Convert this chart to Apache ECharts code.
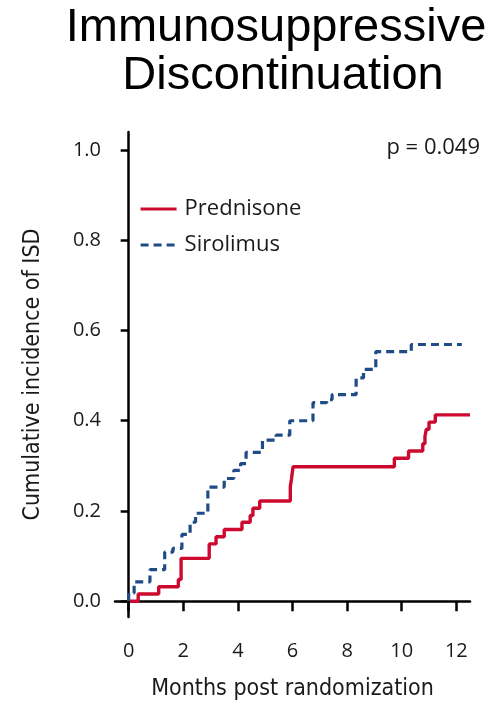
<!DOCTYPE html>
<html>
<head>
<meta charset="utf-8">
<script src="https://cdn.jsdelivr.net/npm/echarts@6/dist/echarts.min.js"></script>
<style>
  html, body { margin: 0; padding: 0; background: #ffffff; }
  #chart { width: 496px; height: 706px; }
</style>
</head>
<body>
<div id="chart"></div>
<script>
// Cumulative incidence step curves: [month, incidence after that month]
const prednisone = [
  [0.05, 0], [0.35, 0.016], [1.1, 0.032], [1.82, 0.048], [1.92, 0.095],
  [2.95, 0.127], [3.2, 0.143], [3.5, 0.159], [4.15, 0.175], [4.45, 0.19],
  [4.55, 0.206], [4.8, 0.222], [5.92, 0.254], [5.96, 0.27], [6.02, 0.298],
  [9.73, 0.317], [10.25, 0.333], [10.77, 0.349], [10.85, 0.365], [10.9, 0.381],
  [11.0, 0.397], [11.23, 0.413], [12.5, 0.413]
];
const sirolimus = [
  [0, 0], [0, 0.018], [0.2, 0.043], [0.78, 0.07], [1.32, 0.109], [1.62, 0.117],
  [1.95, 0.148], [2.25, 0.175], [2.45, 0.195], [2.9, 0.253], [3.5, 0.272],
  [3.85, 0.29], [4.1, 0.305], [4.3, 0.33], [4.9, 0.357], [5.4, 0.368],
  [5.9, 0.4], [6.75, 0.44], [7.25, 0.447], [7.45, 0.458], [8.33, 0.495],
  [8.6, 0.514], [9.05, 0.553], [10.35, 0.569], [12.2, 0.569]
];
const xTicks = [0, 2, 4, 6, 8, 10, 12];
const yTicks = [0, 0.2, 0.4, 0.6, 0.8, 1.0];
const titleLines = ['Immunosuppressive', 'Discontinuation'];
const pValueText = 'p = 0.049';

const textColor = '#1a1a1a';
const bodyFont = "'Open Sans', 'Noto Sans', sans-serif";
const narrowFont = "'Liberation Sans Narrow', 'DejaVu Sans Condensed', 'Roboto', sans-serif";
const titleFont = "47px 'Liberation Sans', Arial, sans-serif";

const chart = echarts.init(document.getElementById('chart'), null, { renderer: 'canvas' });

chart.setOption({
  backgroundColor: '#ffffff',
  animation: false,
  graphic: [
    { type: 'text', x: 276, y: 5,
      style: { text: titleLines[0], font: titleFont, fill: '#000', align: 'center', verticalAlign: 'top' } },
    { type: 'text', x: 283, y: 53,
      style: { text: titleLines[1], font: titleFont, fill: '#000', align: 'center', verticalAlign: 'top' } },
    { type: 'text', x: 480, y: 137,
      style: { text: pValueText, font: "22px " + bodyFont, fill: textColor, align: 'right', verticalAlign: 'top' } }
  ],
  legend: {
    orient: 'vertical',
    left: 134,
    top: 193,
    itemWidth: 36,
    itemHeight: 14,
    itemGap: 14,
    itemStyle: { opacity: 0 },
    lineStyle: { width: 3.2 },
    textStyle: { fontSize: 22, fontFamily: bodyFont, color: textColor, padding: [0, 0, 0, 3] },
    data: ['Prednisone', 'Sirolimus']
  },
  grid: { left: 115, right: 26, top: 132, bottom: 89 },
  xAxis: {
    type: 'value',
    min: -0.5,
    max: 12.5,
    name: 'Months post randomization',
    nameLocation: 'middle',
    nameGap: 61,
    nameTextStyle: { fontSize: 23, fontFamily: narrowFont, color: textColor },
    axisLine: { lineStyle: { color: '#000', width: 2.5 } },
    axisTick: { show: true, length: 10, lineStyle: { color: '#000', width: 2.5 }, customValues: xTicks },
    axisLabel: { fontSize: 20, fontFamily: bodyFont, color: textColor, margin: 24, customValues: xTicks },
    splitLine: { show: false }
  },
  yAxis: {
    type: 'value',
    min: -0.035,
    max: 1.04,
    name: 'Cumulative incidence of ISD',
    nameLocation: 'middle',
    nameGap: 70,
    nameTextStyle: { fontSize: 23, fontFamily: narrowFont, color: textColor },
    axisLine: { lineStyle: { color: '#000', width: 2.5 } },
    axisTick: { show: true, length: 8, lineStyle: { color: '#000', width: 2.5 }, customValues: yTicks },
    axisLabel: { fontSize: 20, fontFamily: bodyFont, color: textColor, margin: 14,
                 customValues: yTicks, formatter: v => v.toFixed(1) },
    splitLine: { show: false }
  },
  series: [
    {
      name: 'Prednisone',
      type: 'line',
      step: 'end',
      data: prednisone,
      symbol: 'none',
      color: '#cc0a2f',
      lineStyle: { color: '#cc0a2f', width: 3.4 },
      z: 3
    },
    {
      name: 'Sirolimus',
      type: 'line',
      step: 'end',
      data: sirolimus,
      symbol: 'none',
      color: '#1f4c87',
      lineStyle: { color: '#1f4c87', width: 3.2, type: [8, 5] },
      z: 2
    }
  ]
});
</script>
</body>
</html>
